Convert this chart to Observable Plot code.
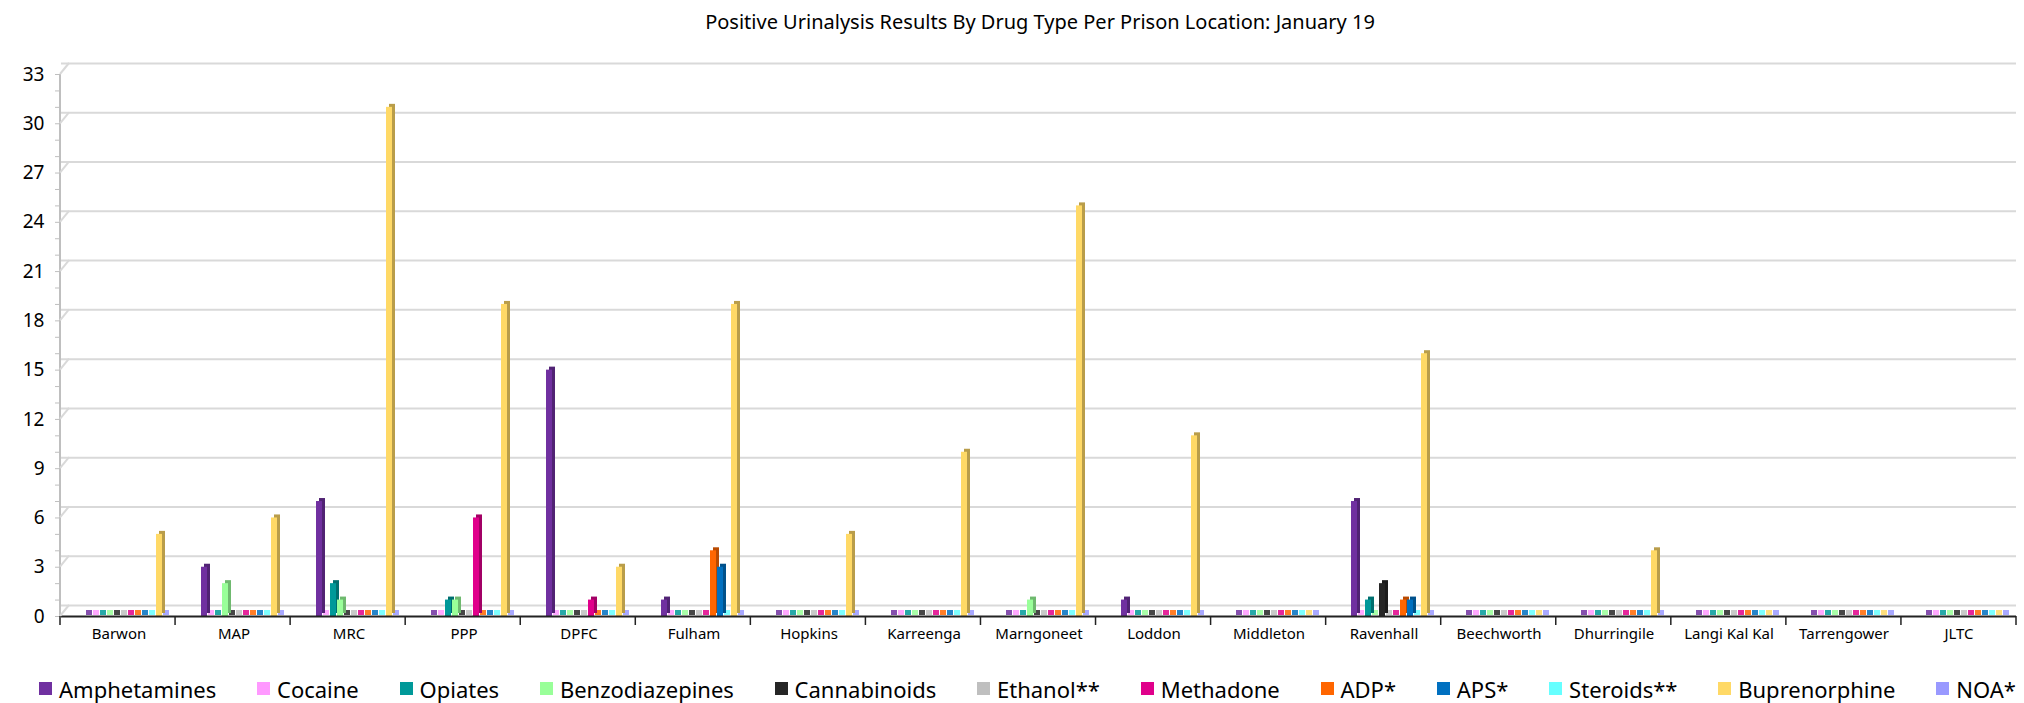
<!DOCTYPE html>
<html><head><meta charset="utf-8">
<script src="https://cdn.jsdelivr.net/npm/d3@7"></script>
<script src="https://cdn.jsdelivr.net/npm/@observablehq/plot@0.6"></script>
<style>
html,body{margin:0;padding:0;background:#fff;overflow:hidden;width:2024px;height:703px;font-family:"Noto Sans",sans-serif;}
#title{height:44px;line-height:44px;text-align:center;font-size:20px;padding-left:56px;color:#000;box-sizing:border-box}
#legend{display:flex;justify-content:space-between;padding:6px 8px 0 39px;font-size:22px;height:35px;align-items:center;color:#000;box-sizing:border-box}
.item{display:flex;align-items:center;gap:7px}
.sw{width:13px;height:13px;display:inline-block}
</style></head><body>
<div id="title">Positive Urinalysis Results By Drug Type Per Prison Location: January 19</div>
<div id="chart"></div>
<div id="legend"></div>
<script>
const locations = ["Barwon","MAP","MRC","PPP","DPFC","Fulham","Hopkins","Karreenga","Marngoneet","Loddon","Middleton","Ravenhall","Beechworth","Dhurringile","Langi Kal Kal","Tarrengower","JLTC"];
const drugs = ["Amphetamines","Cocaine","Opiates","Benzodiazepines","Cannabinoids","Ethanol**","Methadone","ADP*","APS*","Steroids**","Buprenorphine","NOA*"];
const colors = ["#7030A0","#FF99FF","#009999","#99FF99","#262626","#BFBFBF","#E0008B","#FF6600","#0070C0","#66FFFF","#FFD966","#9999FF"];

const amphetamines    = [0,3,7,0,15,1,0,0,0,1,0,7,0,0,0,0,0];
const cocaine         = [0,0,0,0,0,0,0,0,0,0,0,0,0,0,0,0,0];
const opiates         = [0,0,2,1,0,0,0,0,0,0,0,1,0,0,0,0,0];
const benzodiazepines = [0,2,1,1,0,0,0,0,1,0,0,0,0,0,0,0,0];
const cannabinoids    = [0,0,0,0,0,0,0,0,0,0,0,2,0,0,0,0,0];
const ethanol         = [0,0,0,0,0,0,0,0,0,0,0,0,0,0,0,0,0];
const methadone       = [0,0,0,6,1,0,0,0,0,0,0,0,0,0,0,0,0];
const adp             = [0,0,0,0,0,4,0,0,0,0,0,1,0,0,0,0,0];
const aps             = [0,0,0,0,0,3,0,0,0,0,0,1,0,0,0,0,0];
const steroids        = [0,0,0,0,0,0,0,0,0,0,0,0,0,0,0,0,0];
const buprenorphine   = [5,6,31,19,3,19,5,10,25,11,0,16,0,4,0,0,0];
const noa             = [0,0,0,0,0,0,0,0,0,0,0,0,0,0,0,0,0];
const yTicks = [0,3,6,9,12,15,18,21,24,27,30,33];

const series = [amphetamines,cocaine,opiates,benzodiazepines,cannabinoids,ethanol,methadone,adp,aps,steroids,buprenorphine,noa];
const rows = locations.flatMap((loc,i)=>drugs.map((d,j)=>({location:loc,drug:d,value:series[j][i]})));
const dark = colors.map(c=>d3.color(c).darker(0.9).formatHex());

const H = 624;
const chart = Plot.plot({
  width: 2024, height: H,
  marginTop: 30, marginBottom: 52, marginLeft: 60, marginRight: 8,
  style: {fontFamily: '"Noto Sans", sans-serif', color: "#000", background: "#fff"},
  fx: {domain: locations, padding: 0, label: null},
  x: {domain: drugs, paddingInner: 0.1, paddingOuter: 1.4, align: 0.8, axis: null},
  y: {domain: [0,33], axis: null},
  color: {domain: drugs, range: colors},
  marks: [
    Plot.gridY(yTicks, {dy: -11, stroke: "#d9d9d9", strokeOpacity: 1, strokeWidth: 2}),
    Plot.tickY(rows, {fx: "location", x: "drug", y: () => 0, stroke: "drug", strokeWidth: 5, dy: -4, strokeOpacity: 0.85}),
    ...drugs.map((d,j)=>Plot.barY(rows.filter(r=>r.drug===d && r.value>0), {fx:"location", x:"drug", y:"value", fill: dark[j], dx: 3, dy: -3})),
    Plot.barY(rows.filter(r=>r.value>0), {fx:"location", x:"drug", y:"value", fill:"drug"}),
    Plot.ruleY([0], {stroke: "#222", strokeWidth: 2}),
    Plot.axisFx({anchor: "bottom", tickSize: 0, tickPadding: 12, fontSize: 15, label: null}),
    Plot.axisY({ticks: d3.range(0,34), tickFormat: () => "", tickSize: 6, stroke: "#bfbfbf", label: null}),
    Plot.axisY({ticks: yTicks, tickSize: 0, tickPadding: 17, fontSize: 19, label: null})
  ]
});
document.getElementById("chart").appendChild(chart);

// decorations: y-axis line, grid slants, group separators
const ys = chart.scale("y");
const yScale = d3.scaleLinear(ys.domain, ys.range);
const fs = chart.scale("fx");
const fxScale = d3.scaleBand(fs.domain, fs.range).paddingInner(fs.paddingInner||0).paddingOuter(fs.paddingOuter||0).align(fs.align ?? 0.5);
const svg = d3.select(chart.tagName.toLowerCase()==="svg" ? chart : chart.querySelector("svg"));
const g = svg.append("g");
const x0 = 60;
g.append("line").attr("x1",x0).attr("x2",x0).attr("y1",yScale(0)).attr("y2",yScale(33)).attr("stroke","#bfbfbf").attr("stroke-width",2);
yTicks.forEach(t=>{
  g.append("line").attr("x1",x0).attr("y1",yScale(t)).attr("x2",x0+9).attr("y2",yScale(t)-11).attr("stroke","#d9d9d9").attr("stroke-width",2);
});
const bounds = locations.map(l=>fxScale(l)).concat([fxScale(locations[locations.length-1])+fxScale.bandwidth()]);
bounds.forEach(b=>{
  g.append("line").attr("x1",b).attr("x2",b).attr("y1",yScale(0)).attr("y2",yScale(0)+9).attr("stroke","#222").attr("stroke-width",1.5);
});

// legend
const legend = document.getElementById("legend");
drugs.forEach((d,j)=>{
  const it = document.createElement("div"); it.className="item";
  const sw = document.createElement("span"); sw.className="sw"; sw.style.background=colors[j];
  const tx = document.createElement("span"); tx.textContent=d;
  it.appendChild(sw); it.appendChild(tx); legend.appendChild(it);
});
</script>
</body></html>
